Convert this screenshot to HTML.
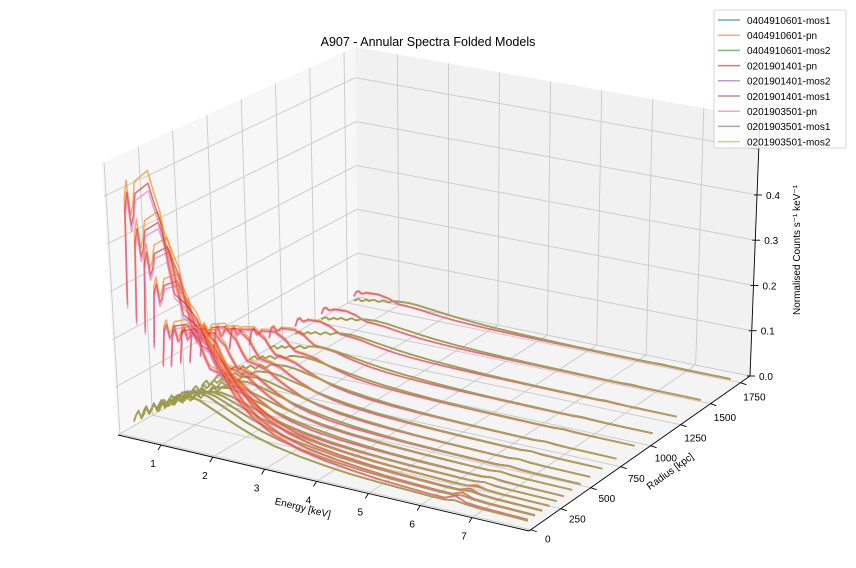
<!DOCTYPE html>
<html><head><meta charset="utf-8"><style>
body{margin:0;background:#fff}
svg{display:block;font-family:"Liberation Sans","DejaVu Sans",sans-serif}
</style></head><body>
<svg id="c" width="856" height="568" viewBox="0 0 856 568" xmlns="http://www.w3.org/2000/svg">
<rect width="856" height="568" fill="#fff"/>
<g id="panes"></g>
<g id="grid"></g>
<g id="axes"></g>
<g id="series"></g>
<text x="428" y="46" text-anchor="middle" font-size="12.5">A907 - Annular Spectra Folded Models</text>
<text x="302" y="511" text-anchor="middle" font-size="10" transform="rotate(14 302 511)">Energy [keV]</text>
<text x="672" y="474" text-anchor="middle" font-size="10" transform="rotate(-36 672 474)">Radius [kpc]</text>
<text x="800" y="250" text-anchor="middle" font-size="10" transform="rotate(-90 800 250)">Normalised Counts s⁻¹ keV⁻¹</text>
<g id="legend"></g>
</svg>
<script>
// ---- data ----
const energies = [0.3,0.35,0.4,0.45,0.5,0.55,0.6,0.7,0.8,0.9,1.0,1.1,1.2,1.4,1.6,1.8,2.0,2.3,2.6,3.0,3.5,4.0,4.5,5.0,5.5,6.0,6.3,6.5,6.7,7.0,7.5,7.9];
const pnShape = [0.5,0.88,0.95,0.82,0.86,0.95,0.96,0.98,1.0,0.92,0.85,0.7,0.58,0.55,0.5,0.4,0.32,0.22,0.16,0.11,0.075,0.055,0.042,0.032,0.026,0.021,0.02,0.036,0.02,0.015,0.012,0.01];
const mosShape = [0.2,0.35,0.45,0.3,0.4,0.55,0.45,0.65,0.55,0.8,0.7,0.9,0.95,1.0,0.95,0.85,0.75,0.6,0.48,0.36,0.26,0.19,0.14,0.11,0.09,0.07,0.07,0.1,0.07,0.05,0.04,0.03];
const radii = [60,120,180,240,300,360,430,500,580,680,800,950,1100,1300,1500,1750];
const pnAmp = [0.53,0.44,0.38,0.3,0.2,0.18,0.17,0.15,0.15,0.13,0.11,0.08,0.06,0.045,0.035,0.03];
const mosAmp = [0.1,0.1,0.09,0.08,0.07,0.07,0.06,0.06,0.055,0.05,0.045,0.038,0.034,0.03,0.027,0.025];
const background = [0,0,0,0,0,0,0.001,0.001,0.002,0.002,0.002,0.003,0.003,0.003,0.003,0.003];
const seriesNames = ["0404910601-mos1","0404910601-pn","0404910601-mos2","0201901401-pn","0201901401-mos2","0201901401-mos1","0201903501-pn","0201903501-mos1","0201903501-mos2"];
const seriesIsPn = [false,true,false,true,false,false,true,false,false];
const seriesFactor = [1.0,1.05,1.0,1.0,0.99,1.0,0.97,1.01,1.0];
const colors = ["#1f77b4","#ff7f0e","#2ca02c","#d62728","#9467bd","#8c564b","#e377c2","#7f7f7f","#bcbd22"];
const xTicks = [1,2,3,4,5,6,7];
const yTicks = [0,250,500,750,1000,1250,1500,1750];
const zTicks = [0,0.1,0.2,0.3,0.4];
const zGrid = [0,0.1,0.2,0.3,0.4,0.5];

// ---- projection ----
const Emin=0.17,Emax=8.1,Rmin=-15,Rmax=1830,Zmax=0.57;
const FL=[118,435],FR=[529,531],BR=[750,376],BL=[358,297];
const FLt=[102,163],FRt=[540,236],BRt=[760,118],BLt=[355,47];
function bil(a,b,c,d,u,v){return [
 (1-u)*(1-v)*a[0]+u*(1-v)*b[0]+u*v*c[0]+(1-u)*v*d[0],
 (1-u)*(1-v)*a[1]+u*(1-v)*b[1]+u*v*c[1]+(1-u)*v*d[1]];}
function P(u,v,w){const b=bil(FL,FR,BR,BL,u,v),t=bil(FLt,FRt,BRt,BLt,u,v);return [(1-w)*b[0]+w*t[0],(1-w)*b[1]+w*t[1]];}
const xs=e=>(e-Emin)/(Emax-Emin), ys=r=>(r-Rmin)/(Rmax-Rmin), zs=z=>z/Zmax;
const proj=(e,r,z)=>P(xs(e),ys(r),zs(z));
const NS="http://www.w3.org/2000/svg";
function mk(tag,attrs,parent){const el=document.createElementNS(NS,tag);for(const k in attrs)el.setAttribute(k,attrs[k]);parent.appendChild(el);return el;}
const pts=a=>a.map(p=>p[0].toFixed(1)+","+p[1].toFixed(1)).join(" ");

// panes
const panes=document.getElementById('panes');
let el;
el=mk('polygon',{points:pts([P(0,0,0),P(0,1,0),P(0,1,1),P(0,0,1)]),fill:"#f7f7f7"},panes);


el=mk('polygon',{points:pts([P(0,1,0),P(1,1,0),P(1,1,1),P(0,1,1)]),fill:"#f1f1f1"},panes);


el=mk('polygon',{points:pts([P(0,0,0),P(1,0,0),P(1,1,0),P(0,1,0)]),fill:"#f4f4f4"},panes);



// grid
const grid=document.getElementById('grid');
function gl(a,b,name){const l=mk('line',{x1:a[0],y1:a[1],x2:b[0],y2:b[1],stroke:"#c9c9c9","stroke-width":0.9},grid);

}
xTicks.forEach(e=>{gl(P(xs(e),0,0),P(xs(e),1,0),'floor-grid-energy');gl(P(xs(e),1,0),P(xs(e),1,1),'back-grid-energy');});
yTicks.forEach(r=>{gl(P(0,ys(r),0),P(1,ys(r),0),'floor-grid-radius');gl(P(0,ys(r),0),P(0,ys(r),1),'left-grid-radius');});
zGrid.forEach(z=>{gl(P(0,0,zs(z)),P(0,1,zs(z)),'left-grid-counts');gl(P(0,1,zs(z)),P(1,1,zs(z)),'back-grid-counts');});

// axes
const axes=document.getElementById('axes');
function al(a,b,name){const l=mk('line',{x1:a[0],y1:a[1],x2:b[0],y2:b[1],stroke:"#000","stroke-width":0.9},axes);

}
al(P(0,0,0),P(1,0,0),'x-axis-line');
al(P(1,0,0),P(1,1,0),'y-axis-line');
al(P(1,1,0),P(1,1,1),'z-axis-line');
function tx(x,y,s,anchor,name){const t=mk('text',{x:x,y:y,"font-size":10,"text-anchor":anchor},axes);t.textContent=s;

}
xTicks.forEach(e=>{const a=P(xs(e),0,0);al(a,[a[0]-3,a[1]+5],'x-tick');tx(a[0]-8,a[1]+22,String(e),'middle','x-tick-label');});
yTicks.forEach((r,i)=>{const a=P(1,ys(r),0);al(a,[a[0]+6,a[1]+2],'y-tick');const f=i/(yTicks.length-1);tx(a[0]+17-3*f,a[1]+13+5*f,String(r),'middle','y-tick-label');});
zTicks.forEach(z=>{const a=P(1,1,zs(z));al([a[0]-3,a[1]],[a[0]+5,a[1]],'z-tick');tx(a[0]+9,a[1]+4,z.toFixed(1),'start','z-tick-label');});

// series
const sg=document.getElementById('series');
for(let ri=radii.length-1;ri>=0;ri--){
  for(let si=0;si<seriesNames.length;si++){
    const shape=seriesIsPn[si]?pnShape:mosShape, amp=(seriesIsPn[si]?pnAmp[ri]:mosAmp[ri])*seriesFactor[si];
    const p=energies.map((e,k)=>proj(e,radii[ri],amp*shape[k]+background[ri]));
    const d="M"+p.map(q=>q[0].toFixed(1)+" "+q[1].toFixed(1)).join(" L");
    const path=mk('path',{d:d,fill:"none",stroke:colors[si],"stroke-width":1.5,"stroke-opacity":0.65,"stroke-linejoin":"round"},sg);
    
    
  }
}

// legend
const lg=document.getElementById('legend');
el=mk('rect',{x:714,y:10,width:132,height:138,rx:2,fill:"#fff","fill-opacity":0.85,stroke:"#ccc","stroke-width":0.8},lg);


seriesNames.forEach((n,i)=>{const y=20+i*15.2;
  const l=mk('line',{x1:718,y1:y,x2:740,y2:y,stroke:colors[i],"stroke-width":1.5,"stroke-opacity":0.65},lg);
  
  
  const t=mk('text',{x:747,y:y+3.8,"font-size":10},lg);t.textContent=n;
  
  
});
</script>
</body></html>
